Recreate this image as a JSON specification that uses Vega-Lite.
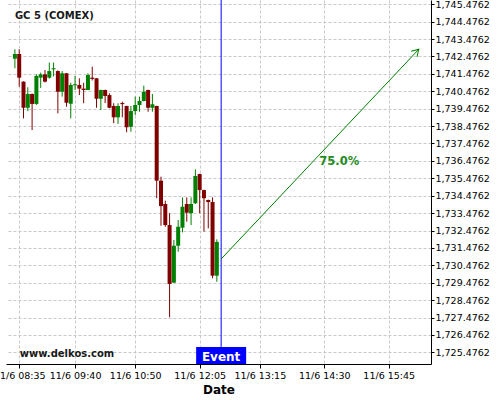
{
  "$schema": "https://vega.github.io/schema/vega-lite/v6.json",
  "width": 425,
  "height": 364,
  "autosize": "none",
  "padding": {"left": 6, "top": 0, "right": 69, "bottom": 36},
  "config": {"view": {"stroke": null}, "font": "DejaVu Sans"},
  "datasets": {
    "candles": [
      {"time": "2021-11-06T08:30:00", "open": 1742.35, "high": 1742.89, "low": 1741.80, "close": 1742.62},
      {"time": "2021-11-06T08:35:00", "open": 1742.62, "high": 1742.89, "low": 1740.74, "close": 1741.26},
      {"time": "2021-11-06T08:40:00", "open": 1741.03, "high": 1741.05, "low": 1738.92, "close": 1739.53},
      {"time": "2021-11-06T08:45:00", "open": 1739.53, "high": 1740.71, "low": 1739.34, "close": 1740.32},
      {"time": "2021-11-06T08:50:00", "open": 1740.32, "high": 1740.35, "low": 1738.25, "close": 1739.75},
      {"time": "2021-11-06T08:55:00", "open": 1739.75, "high": 1741.45, "low": 1739.69, "close": 1741.36},
      {"time": "2021-11-06T09:00:00", "open": 1741.26, "high": 1741.55, "low": 1740.67, "close": 1741.45},
      {"time": "2021-11-06T09:05:00", "open": 1741.45, "high": 1741.70, "low": 1740.98, "close": 1741.03},
      {"time": "2021-11-06T09:10:00", "open": 1741.26, "high": 1742.13, "low": 1741.20, "close": 1741.64},
      {"time": "2021-11-06T09:15:00", "open": 1741.74, "high": 1742.13, "low": 1741.33, "close": 1741.80},
      {"time": "2021-11-06T09:20:00", "open": 1741.64, "high": 1741.68, "low": 1739.21, "close": 1740.45},
      {"time": "2021-11-06T09:25:00", "open": 1740.45, "high": 1741.64, "low": 1740.17, "close": 1741.51},
      {"time": "2021-11-06T09:30:00", "open": 1741.51, "high": 1741.53, "low": 1739.59, "close": 1739.82},
      {"time": "2021-11-06T09:35:00", "open": 1739.76, "high": 1740.97, "low": 1738.92, "close": 1740.84},
      {"time": "2021-11-06T09:40:00", "open": 1740.82, "high": 1741.36, "low": 1740.55, "close": 1740.88},
      {"time": "2021-11-06T09:45:00", "open": 1740.84, "high": 1741.22, "low": 1740.26, "close": 1740.63},
      {"time": "2021-11-06T09:50:00", "open": 1740.63, "high": 1740.97, "low": 1739.79, "close": 1740.55},
      {"time": "2021-11-06T09:55:00", "open": 1740.55, "high": 1741.51, "low": 1740.55, "close": 1741.41},
      {"time": "2021-11-06T10:00:00", "open": 1741.26, "high": 1741.89, "low": 1741.10, "close": 1741.19},
      {"time": "2021-11-06T10:05:00", "open": 1741.22, "high": 1741.24, "low": 1739.53, "close": 1740.05},
      {"time": "2021-11-06T10:10:00", "open": 1740.05, "high": 1740.57, "low": 1739.40, "close": 1740.55},
      {"time": "2021-11-06T10:15:00", "open": 1740.55, "high": 1740.57, "low": 1739.80, "close": 1740.21},
      {"time": "2021-11-06T10:20:00", "open": 1740.26, "high": 1740.36, "low": 1739.50, "close": 1739.53},
      {"time": "2021-11-06T10:25:00", "open": 1739.63, "high": 1739.79, "low": 1738.64, "close": 1738.98},
      {"time": "2021-11-06T10:30:00", "open": 1738.98, "high": 1739.79, "low": 1738.60, "close": 1739.63},
      {"time": "2021-11-06T10:35:00", "open": 1739.80, "high": 1739.88, "low": 1738.98, "close": 1739.74},
      {"time": "2021-11-06T10:40:00", "open": 1739.63, "high": 1739.65, "low": 1738.12, "close": 1738.41},
      {"time": "2021-11-06T10:45:00", "open": 1738.44, "high": 1739.63, "low": 1738.15, "close": 1739.34},
      {"time": "2021-11-06T10:50:00", "open": 1739.34, "high": 1740.17, "low": 1739.11, "close": 1739.69},
      {"time": "2021-11-06T10:55:00", "open": 1739.69, "high": 1740.17, "low": 1739.30, "close": 1739.92},
      {"time": "2021-11-06T11:00:00", "open": 1739.92, "high": 1740.80, "low": 1739.90, "close": 1740.45},
      {"time": "2021-11-06T11:05:00", "open": 1740.55, "high": 1740.57, "low": 1739.30, "close": 1739.53},
      {"time": "2021-11-06T11:10:00", "open": 1739.53, "high": 1740.32, "low": 1739.30, "close": 1739.73},
      {"time": "2021-11-06T11:15:00", "open": 1739.63, "high": 1739.65, "low": 1734.33, "close": 1735.34},
      {"time": "2021-11-06T11:20:00", "open": 1735.34, "high": 1735.57, "low": 1732.75, "close": 1733.88},
      {"time": "2021-11-06T11:25:00", "open": 1734.00, "high": 1734.19, "low": 1732.69, "close": 1732.79},
      {"time": "2021-11-06T11:30:00", "open": 1732.79, "high": 1733.47, "low": 1727.49, "close": 1729.40},
      {"time": "2021-11-06T11:35:00", "open": 1729.48, "high": 1731.93, "low": 1729.46, "close": 1731.60},
      {"time": "2021-11-06T11:40:00", "open": 1731.60, "high": 1733.08, "low": 1731.26, "close": 1732.69},
      {"time": "2021-11-06T11:45:00", "open": 1732.64, "high": 1734.38, "low": 1732.37, "close": 1733.84},
      {"time": "2021-11-06T11:50:00", "open": 1734.00, "high": 1734.38, "low": 1732.98, "close": 1733.50},
      {"time": "2021-11-06T11:55:00", "open": 1733.47, "high": 1734.38, "low": 1732.79, "close": 1734.00},
      {"time": "2021-11-06T12:00:00", "open": 1734.04, "high": 1735.99, "low": 1734.00, "close": 1735.61},
      {"time": "2021-11-06T12:05:00", "open": 1735.72, "high": 1735.74, "low": 1733.47, "close": 1734.80},
      {"time": "2021-11-06T12:10:00", "open": 1734.80, "high": 1734.82, "low": 1732.41, "close": 1734.33},
      {"time": "2021-11-06T12:15:00", "open": 1734.23, "high": 1734.25, "low": 1732.60, "close": 1734.11},
      {"time": "2021-11-06T12:20:00", "open": 1734.11, "high": 1734.38, "low": 1729.73, "close": 1729.88},
      {"time": "2021-11-06T12:25:00", "open": 1729.88, "high": 1731.97, "low": 1729.53, "close": 1731.82}
    ],
    "forecast": [
      {"time": "2021-11-06T12:30:00", "price": 1730.84, "point": "start"},
      {"time": "2021-11-06T16:20:00", "price": 1742.89, "point": "end"}
    ],
    "event": [
      {"time": "2021-11-06T12:30:00", "price": 1725.29, "label": "Event"}
    ],
    "labels": [
      {"time": "2021-11-06T14:47:30", "price": 1736.41, "label": "75.0%"}
    ],
    "captions": [
      {"time": "2021-11-06T08:30:00", "price": 1744.80, "label": "GC 5 (COMEX)"},
      {"time": "2021-11-06T08:35:41", "price": 1725.38, "label": "www.delkos.com"}
    ]
  },
  "encoding": {
    "x": {
      "field": "time",
      "type": "temporal",
      "scale": {
        "nice": false,
        "domain": [
          {"year": 2021, "month": 11, "date": 6, "hours": 8, "minutes": 25, "seconds": 27},
          {"year": 2021, "month": 11, "date": 6, "hours": 16, "minutes": 28, "seconds": 24}
        ]
      },
      "axis": {
        "values": [
          {"year": 2021, "month": 11, "date": 6, "hours": 8, "minutes": 35},
          {"year": 2021, "month": 11, "date": 6, "hours": 9, "minutes": 40},
          {"year": 2021, "month": 11, "date": 6, "hours": 10, "minutes": 50},
          {"year": 2021, "month": 11, "date": 6, "hours": 12, "minutes": 5},
          {"year": 2021, "month": 11, "date": 6, "hours": 13, "minutes": 15},
          {"year": 2021, "month": 11, "date": 6, "hours": 14, "minutes": 30},
          {"year": 2021, "month": 11, "date": 6, "hours": 15, "minutes": 45}
        ],
        "tickCount": 30,
        "format": "%-m/%-d %H:%M",
        "formatType": "time",
        "labelOverlap": false,
        "labelFlush": false,
        "labelFontSize": 9.5,
        "labelColor": "#000000",
        "labelPadding": 2,
        "tickSize": 4,
        "tickColor": "#000000",
        "domainColor": "#000000",
        "grid": true,
        "gridDash": [3, 2],
        "gridColor": "#c8c8c8",
        "title": "Date",
        "titleFontSize": 12,
        "titleFontWeight": "bold",
        "titleColor": "#000000",
        "titlePadding": 5
      }
    }
  },
  "layer": [
    {
      "data": {"name": "candles"},
      "mark": {"type": "rule", "strokeWidth": 1},
      "encoding": {
        "y": {
          "field": "low",
          "type": "quantitative",
          "title": null,
          "scale": {"domain": [1724.804, 1745.723], "nice": false, "zero": false},
          "axis": {
            "orient": "right",
            "values": [1725.4762, 1726.4762, 1727.4762, 1728.4762, 1729.4762, 1730.4762, 1731.4762, 1732.4762, 1733.4762, 1734.4762, 1735.4762, 1736.4762, 1737.4762, 1738.4762, 1739.4762, 1740.4762, 1741.4762, 1742.4762, 1743.4762, 1744.4762, 1745.4762],
            "tickCount": 50,
            "format": ",.4f",
            "labelOverlap": false,
            "labelFlush": false,
            "labelFontSize": 9.5,
            "labelColor": "#000000",
            "labelPadding": 1,
            "tickSize": 3,
            "tickColor": "#000000",
            "domainColor": "#000000",
            "grid": true,
            "gridDash": [3, 2],
            "gridColor": "#c8c8c8",
            "title": null
          }
        },
        "y2": {"field": "high"},
        "color": {
          "condition": {"test": "datum.close >= datum.open", "value": "#008000"},
          "value": "#800000"
        }
      }
    },
    {
      "data": {"name": "candles"},
      "mark": {"type": "bar", "width": 4},
      "encoding": {
        "y": {"field": "open", "type": "quantitative", "title": null},
        "y2": {"field": "close"},
        "color": {
          "condition": {"test": "datum.close >= datum.open", "value": "#008000"},
          "value": "#800000"
        }
      }
    },
    {
      "data": {"name": "event"},
      "mark": {"type": "rule", "color": "#0000FF", "strokeWidth": 1},
      "encoding": {}
    },
    {
      "data": {"name": "forecast"},
      "mark": {"type": "line", "color": "#008000", "strokeWidth": 1},
      "encoding": {
        "y": {"field": "price", "type": "quantitative", "title": null}
      }
    },
    {
      "data": {"name": "forecast"},
      "transform": [{"filter": "datum.point === 'end'"}],
      "mark": {
        "type": "point",
        "shape": "M -0.6 1 L 0 0 L 0.6 1",
        "filled": false,
        "stroke": "#008000",
        "strokeWidth": 1,
        "opacity": 1,
        "size": 180,
        "angle": 44
      },
      "encoding": {
        "y": {"field": "price", "type": "quantitative", "title": null}
      }
    },
    {
      "data": {"name": "labels"},
      "mark": {"type": "text", "color": "#228B22", "fontWeight": "bold", "fontSize": 11.5, "align": "center", "baseline": "middle"},
      "encoding": {
        "y": {"field": "price", "type": "quantitative", "title": null},
        "text": {"field": "label"}
      }
    },
    {
      "data": {"name": "event"},
      "mark": {
        "type": "point",
        "shape": "M -1 -0.34 L 1 -0.34 L 1 0.34 L -1 0.34 Z",
        "filled": true,
        "fill": "#0000FF",
        "strokeWidth": 0,
        "opacity": 1,
        "size": 2500
      },
      "encoding": {
        "y": {"field": "price", "type": "quantitative", "title": null}
      }
    },
    {
      "data": {"name": "event"},
      "mark": {"type": "text", "color": "#FFFFFF", "fontWeight": "bold", "fontSize": 12, "align": "center", "baseline": "middle", "dy": 1},
      "encoding": {
        "y": {"field": "price", "type": "quantitative", "title": null},
        "text": {"field": "label"}
      }
    },
    {
      "data": {"name": "captions"},
      "mark": {"type": "text", "color": "#1a1a1a", "fontWeight": "bold", "fontSize": 10, "align": "left", "baseline": "middle"},
      "encoding": {
        "y": {"field": "price", "type": "quantitative", "title": null},
        "text": {"field": "label"}
      }
    }
  ]
}
